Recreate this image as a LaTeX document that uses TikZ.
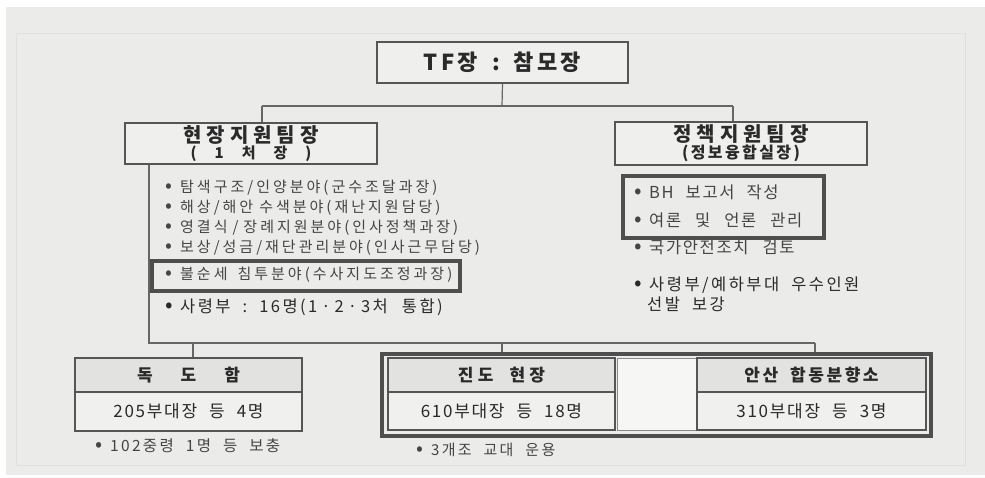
\documentclass[tikz,border=0pt]{standalone}
\usepackage{graphicx}
\usepackage{fontspec}
\setmainfont{Noto Sans CJK KR}
\newfontfamily\kr[LetterSpace=10]{Noto Sans CJK KR}
\newfontfamily\krl[LetterSpace=20]{Noto Sans CJK KR}
\newfontfamily\krm[LetterSpace=15]{Noto Sans CJK KR}
\newfontfamily\krh[LetterSpace=25]{Noto Sans CJK KR}
\definecolor{bgc}{HTML}{EBEBEA}
\definecolor{frame}{HTML}{E0E0DF}
\definecolor{boxline}{HTML}{555555}
\definecolor{boxfill}{HTML}{EFEFEE}
\definecolor{hdrfill}{HTML}{E2E2E1}
\definecolor{rowfill}{HTML}{F0F0EF}
\definecolor{connc}{HTML}{666666}
\definecolor{thickc}{HTML}{4E4E4E}
\definecolor{txt}{HTML}{2A2A2A}
\definecolor{btxt}{HTML}{454545}
\newcommand\kgap[1]{\hspace{#1pt}}
\newcommand\bul{\makebox[15pt][l]{\scalebox{1.35}{•}}}
\begin{document}
\begin{tikzpicture}[x=1pt,y=-1pt,
  box/.style={draw=boxline,line width=1.3pt,fill=boxfill,inner sep=0pt,text=txt},
  hdrcell/.style={draw=boxline,line width=1.2pt,fill=hdrfill,inner sep=0pt,text=txt,
    font=\fontsize{17}{20}\selectfont\bfseries},
  rowcell/.style={draw=boxline,line width=1.2pt,fill=rowfill,inner sep=0pt,text=txt,
    font=\fontsize{17}{19}\selectfont\kr},
  thickbox/.style={draw=thickc,line width=3.5pt,inner sep=0pt},
  conn/.style={draw=connc,line width=1.2pt},
  item/.style={anchor=west,inner sep=0pt,text=btxt,font=\fontsize{16.5}{19}\selectfont\kr},
  litem/.style={item,font=\fontsize{15}{17}\selectfont\krl}]
\useasboundingbox (0,0) rectangle (985,477);
\fill[white] (0,0) rectangle (985,477);
\fill[bgc] (6,7) rectangle (985,475);
\draw[frame,line width=0.6pt] (16,33) rectangle (965,465);

% top
\node[box,minimum width=251pt,minimum height=41pt] (tf) at (502.5,62.5)
  {\fontsize{22}{24}\selectfont\bfseries\krm TF장\kgap{14}:\kgap{14}참모장};

% second level boxes
\node[box,minimum width=252pt,minimum height=41pt,align=center,
  font=\fontsize{16}{16}\selectfont] (lbox) at (251,143.5)
  {{\fontsize{20}{21}\selectfont\bfseries\krh 현장지원팀장}\\
   {\fontsize{15}{16}\selectfont\bfseries (\kgap{18}1\kgap{18}처\kgap{18}장\kgap{18})}};
\node[box,minimum width=252pt,minimum height=43pt,align=center,
  font=\fontsize{17}{17}\selectfont] (rbox) at (741,143.5)
  {{\fontsize{20}{21}\selectfont\bfseries\krh 정책지원팀장}\\
   {\fontsize{16}{17}\selectfont\bfseries\krm (정보융합실장)}};

% connectors top
\coordinate (ja) at (502,106);
\coordinate (jl) at (262,106);
\coordinate (jr) at (733,106);
\draw[conn] (tf.south) -- (ja);
\draw[conn] (jl) -- (jr);
\draw[conn] (jl) -- (jl |- lbox.north);
\draw[conn] (jr) -- (jr |- rbox.north);

% left list
\node[litem] (l1) at (165,188) {\bul 탐색구조/인양분야(군수조달과장)};
\node[litem] (l2) at (165,208) {\bul 해상/해안\kgap{6}수색분야(재난지원담당)};
\node[litem] (l3) at (165,228) {\bul 영결식\kgap{5}/\kgap{5}장례지원분야(인사정책과장)};
\node[litem] (l4) at (165,248) {\bul 보상/성금/재단관리분야(인사근무담당)};
\node[litem] (l5) at (165,275) {\bul 불순세\kgap{10}침투분야(수사지도조정과장)};
\node[thickbox,minimum width=308pt,minimum height=30pt] (l5box) at (306,276) {};
\node[item,text=txt,font=\fontsize{16.5}{19}\selectfont\krm] (l6) at (165,307)
  {\bul 사령부\kgap{12}:\kgap{12}16명(1\kgap{4}·\kgap{4}2\kgap{4}·\kgap{4}3처\kgap{14}통합)};

% right list
\node[item] (r1) at (634,192) {\bul BH\kgap{12}보고서\kgap{12}작성};
\node[item] (r2) at (634,220) {\bul 여론\kgap{14}및\kgap{14}언론\kgap{14}관리};
\node[thickbox,minimum width=201pt,minimum height=62pt] (rthick) at (723.5,207) {};
\node[item] (r3) at (634,247) {\bul 국가안전조치\kgap{14}검토};
\node[item,text=txt,font=\fontsize{16.5}{19}\selectfont\krm] (r4) at (634,285)
  {\bul 사령부/예하부대\kgap{12}우수인원};
\node[item,text=txt,font=\fontsize{16.5}{19}\selectfont\krm] (r5) at (647,304)
  {선발\kgap{12}보강};

% lower connectors
\coordinate (h1) at (149,343);
\coordinate (h2) at (815,343);
\coordinate (hd) at (193,343);
\coordinate (hj) at (502,343);

% bottom left table
\node[hdrcell,minimum width=227pt,minimum height=34pt] (dokh) at (188.5,375)
  {독\kgap{28}도\kgap{28}함};
\node[rowcell,minimum width=227pt,minimum height=39pt] (dokr) at (188.5,411.5)
  {205부대장\kgap{12}등\kgap{12}4명};
\node[item,font=\fontsize{15.5}{17}\selectfont\krm] (dokb) at (95,446)
  {\bul 102중령\kgap{12}1명\kgap{12}등\kgap{12}보충};

% bottom right tables
\node[hdrcell,minimum width=227pt,minimum height=34pt] (jinh) at (501.5,375)
  {\krh 진도\kgap{16}현장};
\node[rowcell,minimum width=227pt,minimum height=38pt] (jinr) at (501.5,411)
  {610부대장\kgap{12}등\kgap{12}18명};
\node[draw=boxline!70,line width=1pt,fill=rowfill!60!white,minimum width=79pt,
  minimum height=72pt,inner sep=0pt] (mid) at (656.5,394) {};
\node[hdrcell,minimum width=229pt,minimum height=34pt] (ansh) at (811.5,375)
  {\krm 안산\kgap{12}합동분향소};
\node[rowcell,minimum width=229pt,minimum height=38pt] (ansr) at (811.5,411)
  {310부대장\kgap{12}등\kgap{12}3명};
\node[thickbox,minimum width=549pt,minimum height=82pt] (big) at (656.5,395) {};
\node[item,font=\fontsize{15}{17}\selectfont\krm] (jinb) at (416,450)
  {\bul 3개조\kgap{12}교대\kgap{12}운용};

\draw[conn] (h1 |- lbox.south) -- (h1) -- (h2);
\draw[conn] (hd) -- (hd |- dokh.north);
\draw[conn] (hj) -- (hj |- big.north);
\draw[conn] (h2) -- (h2 |- big.north);
\end{tikzpicture}
\end{document}
